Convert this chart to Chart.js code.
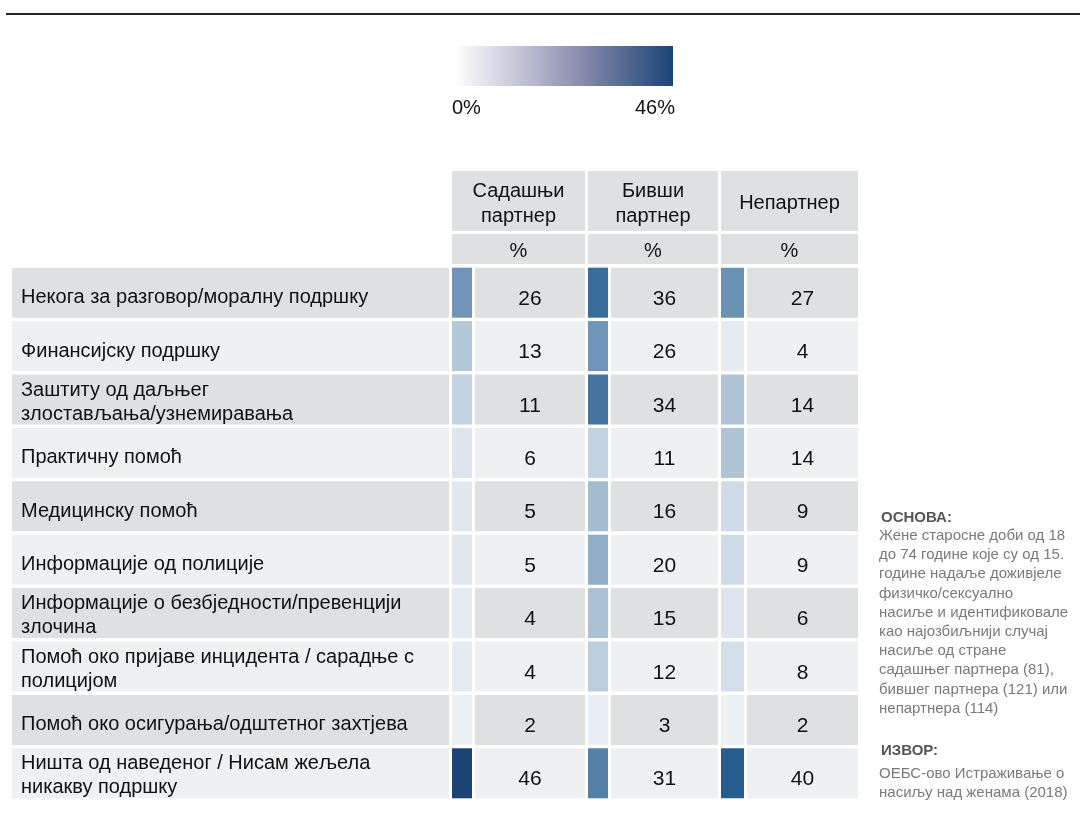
<!DOCTYPE html>
<html>
<head>
<meta charset="utf-8">
<script src="https://cdn.jsdelivr.net/npm/chart.js@4.4.1/dist/chart.umd.min.js"></script>
<style>
  html, body { margin: 0; padding: 0; background: #fff; }
  #wrap { position: relative; width: 1086px; height: 819px; }
</style>
</head>
<body>
<div id="wrap"><canvas id="heat" width="1086" height="819"></canvas></div>
<script>
// Редови табеле (врсте подршке)
const rowLabels = [
  ['Некога за разговор/моралну подршку'],
  ['Финансијску подршку'],
  ['Заштиту од даљњег', 'злостављања/узнемиравања'],
  ['Практичну помоћ'],
  ['Медицинску помоћ'],
  ['Информације од полиције'],
  ['Информације о безбједности/превенцији', 'злочина'],
  ['Помоћ око пријаве инцидента / сарадње с', 'полицијом'],
  ['Помоћ око осигурања/одштетног захтјева'],
  ['Ништа од наведеног / Нисам жељела', 'никакву подршку']
];

// Колоне
const columnTitles = [['Садашњи', 'партнер'], ['Бивши', 'партнер'], ['Непартнер']];
const unitLabel = '%';

// Вриједности (%)
const currentPartner = [26, 13, 11, 6, 5, 5, 4, 4, 2, 46];
const formerPartner = [36, 26, 34, 11, 16, 20, 15, 12, 3, 31];
const nonPartner = [27, 4, 14, 14, 9, 9, 6, 8, 2, 40];

// Скала боја
const scaleMin = 0;
const scaleMax = 46;
const scaleTicks = ['0%', '46%'];

// Напомене
const noteBaseTitle = 'ОСНОВА:';
const noteBaseLines = [
  'Жене старосне доби од 18',
  'до 74 године које су од 15.',
  'године надаље доживјеле',
  'физичко/сексуално',
  'насиље и идентификовале',
  'као најозбиљнији случај',
  'насиље од стране',
  'садашњег партнера (81),',
  'бившег партнера (121) или',
  'непартнера (114)'
];
const noteSourceTitle = 'ИЗВОР:';
const noteSourceLines = ['ОЕБС-ово Истраживање о', 'насиљу над женама (2018)'];

// ---- изглед ----
const FONT = '"Liberation Sans", Arial, Helvetica, sans-serif';
const rowDark = '#dfe0e2';
const rowLight = '#eff0f2';
const labelSpan = [12, 449];
const colLayout = [
  { square: [452, 472], cell: [475, 585] },
  { square: [588, 608], cell: [611, 718] },
  { square: [721, 744], cell: [747, 858] }
];
const seriesList = [currentPartner, formerPartner, nonPartner];

// боја ћелије по вриједности
const colorStops = [
  [0, [244, 247, 250]], [5, [225, 232, 240]], [9, [207, 219, 230]],
  [14, [176, 196, 214]], [20, [144, 174, 199]], [27, [107, 145, 181]],
  [34, [68, 116, 159]], [40, [36, 93, 142]], [46, [27, 67, 115]]
];
function heatColor(v) {
  const t = Math.max(scaleMin, Math.min(scaleMax, v));
  for (let i = 1; i < colorStops.length; i++) {
    const [v1, c1] = colorStops[i];
    const [v0, c0] = colorStops[i - 1];
    if (t <= v1) {
      const f = (t - v0) / (v1 - v0);
      const c = c0.map((a, k) => Math.round(a + (c1[k] - a) * f));
      return `rgb(${c[0]},${c[1]},${c[2]})`;
    }
  }
  return 'rgb(27,67,115)';
}

const rowBg = rowLabels.map((_, i) => (i % 2 === 0 ? rowDark : rowLight));
const rowIds = rowLabels.map(l => l.join(' '));

const datasets = [{
  label: 'labels',
  data: rowLabels.map(() => labelSpan),
  backgroundColor: rowBg
}];
colLayout.forEach((col, ci) => {
  datasets.push({
    label: 'square' + ci,
    data: seriesList[ci].map(() => col.square),
    backgroundColor: seriesList[ci].map(v => heatColor(v))
  });
  datasets.push({
    label: 'cell' + ci,
    data: seriesList[ci].map(() => col.cell),
    backgroundColor: rowBg
  });
});
datasets.forEach(d => {
  d.grouped = false;
  d.barPercentage = 0.937;
  d.categoryPercentage = 1;
  d.borderWidth = 0;
});

// текст, заглавља, легенда
const decorPlugin = {
  id: 'decor',
  afterDatasetsDraw(chart) {
    const ctx = chart.ctx;
    const x = chart.scales.x;
    const y = chart.scales.y;
    ctx.save();
    ctx.textBaseline = 'alphabetic';

    // горња линија
    ctx.fillStyle = '#222';
    ctx.fillRect(6, 13, 1074, 2);

    // легенда градијента
    const g = ctx.createLinearGradient(454, 0, 673, 0);
    g.addColorStop(0, '#ffffff');
    g.addColorStop(0.3, '#c3c4d6');
    g.addColorStop(0.6, '#8488aa');
    g.addColorStop(1, '#1b4475');
    ctx.fillStyle = g;
    ctx.fillRect(454, 46, 219, 40);
    ctx.fillStyle = '#111';
    ctx.font = '20px ' + FONT;
    ctx.textAlign = 'left';
    ctx.fillText(scaleTicks[0], 452, 114);
    ctx.textAlign = 'right';
    ctx.fillText(scaleTicks[1], 675, 114);

    // заглавља колона
    colLayout.forEach((col, ci) => {
      const x0 = x.getPixelForValue(col.square[0]);
      const x1 = x.getPixelForValue(col.cell[1]);
      ctx.fillStyle = rowDark;
      ctx.fillRect(x0, 171, x1 - x0, 60);
      ctx.fillRect(x0, 234, x1 - x0, 30);
      ctx.fillStyle = '#111';
      ctx.textAlign = 'center';
      ctx.font = '20px ' + FONT;
      const cx = (x0 + x1) / 2;
      const lines = columnTitles[ci];
      lines.forEach((ln, li) => {
        ctx.fillText(ln, cx, 209 + (li - (lines.length - 1) / 2) * 25);
      });
      ctx.fillText(unitLabel, cx, 257);
    });

    // натписи редова
    ctx.textAlign = 'left';
    ctx.font = '20px ' + FONT;
    ctx.fillStyle = '#111';
    rowLabels.forEach((lines, i) => {
      const cy = y.getPixelForValue(i);
      const base = lines.length > 1 ? cy + 8 : cy + 10.5;
      lines.forEach((ln, li) => {
        ctx.fillText(ln, x.getPixelForValue(labelSpan[0]) + 9, base + (li - (lines.length - 1) / 2) * 24);
      });
    });

    // вриједности
    ctx.textAlign = 'center';
    ctx.font = '21px ' + FONT;
    colLayout.forEach((col, ci) => {
      const cx = x.getPixelForValue((col.cell[0] + col.cell[1]) / 2);
      seriesList[ci].forEach((v, i) => {
        ctx.fillText(String(v), cx, y.getPixelForValue(i) + 12);
      });
    });

    // напомене
    ctx.textAlign = 'left';
    ctx.fillStyle = '#555';
    ctx.font = 'bold 15px ' + FONT;
    ctx.fillText(noteBaseTitle, 881, 522);
    ctx.fillStyle = '#7a7a7a';
    ctx.font = '15px ' + FONT;
    noteBaseLines.forEach((ln, i) => ctx.fillText(ln, 879, 540 + i * 19.2));
    ctx.fillStyle = '#555';
    ctx.font = 'bold 15px ' + FONT;
    ctx.fillText(noteSourceTitle, 881, 755);
    ctx.fillStyle = '#7a7a7a';
    ctx.font = '15px ' + FONT;
    noteSourceLines.forEach((ln, i) => ctx.fillText(ln, 879, 778 + i * 19));

    ctx.restore();
  }
};

new Chart(document.getElementById('heat'), {
  type: 'bar',
  data: { labels: rowIds, datasets: datasets },
  options: {
    indexAxis: 'y',
    responsive: false,
    animation: false,
    layout: { padding: { top: 266, bottom: 19, left: 0, right: 0 } },
    plugins: { legend: { display: false }, tooltip: { enabled: false } },
    scales: {
      x: { type: 'linear', min: 0, max: 1086, display: false },
      y: { type: 'category', display: false }
    }
  },
  plugins: [decorPlugin]
});
</script>
</body>
</html>
